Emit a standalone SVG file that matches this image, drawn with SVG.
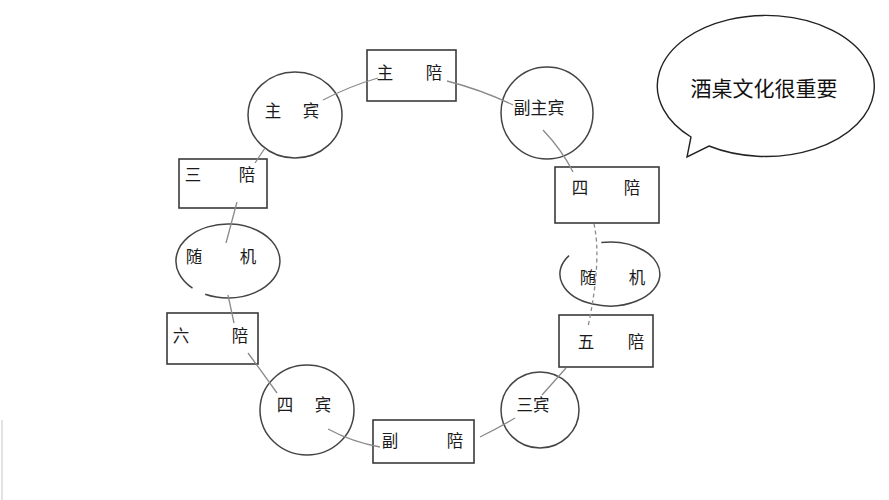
<svg xmlns="http://www.w3.org/2000/svg" width="889" height="500" viewBox="0 0 889 500">
<style>
.box{fill:#fff;stroke:#3a3a3a;stroke-width:1.6}
.ring{fill:#fff;stroke:#444;stroke-width:1.5}
.lbl{font-family:"Noto Sans CJK SC","Noto Sans CJK TC",sans-serif;font-size:16.5px;fill:#1a1a1a;text-anchor:middle;dominant-baseline:central}
.conn{fill:none;stroke:#8a8a8a;stroke-width:1.3}
.dash{stroke-dasharray:4 3}
</style>
<rect width="889" height="500" fill="#fff"/>
<line x1="2" y1="420" x2="2" y2="500" stroke="#e2e2e2" stroke-width="2"/>
<g id="bubble">
<path d="M709,146 A108.5 70.5 0 1 0 691,137 L687,157 Z" fill="#fff" stroke="#222" stroke-width="1.4"/>
<text x="764" y="87" class="lbl" style="font-size:21px;fill:#111">酒桌文化很重要</text>
</g>
<g id="zhupei"><rect class="box" x="367" y="50" width="89" height="51"/><text class="lbl" x="385" y="72">主</text><text class="lbl" x="434" y="72">陪</text></g>
<g id="zhubin"><ellipse class="ring" cx="295" cy="115" rx="47" ry="43"/><text class="lbl" x="273" y="110">主</text><text class="lbl" x="311" y="110">宾</text></g>
<g id="fuzhubin"><ellipse class="ring" cx="547" cy="113" rx="46" ry="46"/><text class="lbl" x="539" y="106" style="font-size:17px">副主宾</text></g>
<g id="sanpei"><rect class="box" x="179" y="159" width="88" height="49"/><text class="lbl" x="193" y="174">三</text><text class="lbl" x="247" y="174">陪</text></g>
<g id="sipei"><rect class="box" x="555" y="167" width="104" height="56"/><text class="lbl" x="580" y="187">四</text><text class="lbl" x="632" y="187">陪</text></g>
<g id="suiji-left"><path class="ring" d="M192.5,288.1 A52 37 0 1 1 205.2,294.3"/><text class="lbl" x="194" y="256">随</text><text class="lbl" x="248" y="256">机</text></g>
<g id="suiji-right"><path class="ring" d="M601.3,242.5 A50 32 0 1 1 569,255.6"/><text class="lbl" x="588" y="277">随</text><text class="lbl" x="637" y="277">机</text></g>
<g id="liupei"><rect class="box" x="167" y="313" width="91" height="51"/><text class="lbl" x="181" y="335">六</text><text class="lbl" x="240" y="335">陪</text></g>
<g id="wupei"><rect class="box" x="559" y="315" width="94" height="52"/><text class="lbl" x="586" y="341">五</text><text class="lbl" x="636" y="341">陪</text></g>
<g id="sibin"><ellipse class="ring" cx="307" cy="410" rx="47" ry="45"/><text class="lbl" x="285" y="404">四</text><text class="lbl" x="323" y="404">宾</text></g>
<g id="sanbin"><ellipse class="ring" cx="540" cy="410" rx="39" ry="38"/><text class="lbl" x="533" y="404">三宾</text></g>
<g id="fupei"><rect class="box" x="373" y="420" width="101" height="43"/><text class="lbl" x="390" y="440">副</text><text class="lbl" x="455" y="440">陪</text></g>
<g id="connectors">
<path class="conn" d="M323,100 Q350,86 378,78"/>
<path class="conn" d="M447,81 Q482,90 513,105"/>
<path class="conn" d="M265,148 L255,163"/>
<path class="conn" d="M237,202 L226,243"/>
<path class="conn" d="M228,295 L234,323"/>
<path class="conn" d="M248,353 Q262,372 277,393"/>
<path class="conn" d="M328,429 Q352,442 380,447"/>
<path class="conn" d="M480,437 Q498,428 515,418"/>
<path class="conn" d="M542,395 L566,368"/>
<path class="conn" d="M543,130 Q562,150 573,172"/>
<path class="conn dash" d="M594,224 Q602,260 588,327"/>
</g>
</svg>
